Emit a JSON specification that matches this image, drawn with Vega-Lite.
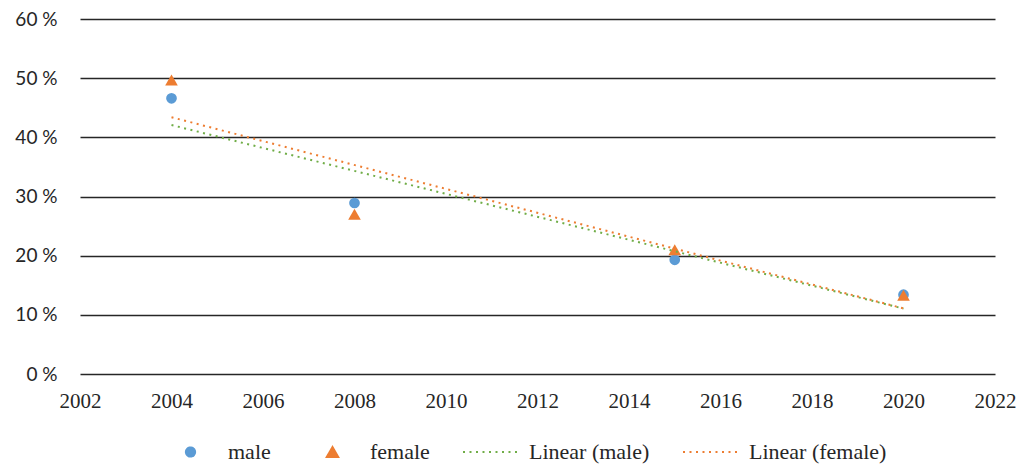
{
  "$schema": "https://vega.github.io/schema/vega-lite/v6.json",
  "width": 915,
  "height": 355,
  "autosize": {"type": "none"},
  "padding": {"left": 80, "top": 19, "right": 37, "bottom": 92},
  "background": "white",
  "config": {
    "view": {"stroke": null},
    "font": "Liberation Serif",
    "axis": {"labelFont": "Liberation Serif", "labelFontSize": 21, "labelColor": "#262626"},
    "legend": {"labelFont": "Liberation Serif", "labelFontSize": 22, "labelColor": "#262626", "padding": 0}
  },
  "data": {
    "values": [
      {"year": 2004, "value": 46.6, "sex": "male", "trend": "Linear (male)"},
      {"year": 2008, "value": 28.9, "sex": "male", "trend": "Linear (male)"},
      {"year": 2015, "value": 19.3, "sex": "male", "trend": "Linear (male)"},
      {"year": 2020, "value": 13.4, "sex": "male", "trend": "Linear (male)"},
      {"year": 2004, "value": 49.7, "sex": "female", "trend": "Linear (female)"},
      {"year": 2008, "value": 27.0, "sex": "female", "trend": "Linear (female)"},
      {"year": 2015, "value": 21.0, "sex": "female", "trend": "Linear (female)"},
      {"year": 2020, "value": 13.3, "sex": "female", "trend": "Linear (female)"}
    ]
  },
  "encoding": {
    "x": {
      "field": "year", "type": "quantitative",
      "scale": {"domain": [2002, 2022], "nice": false, "zero": false},
      "axis": {"title": null, "values": [2002,2004,2006,2008,2010,2012,2014,2016,2018,2020,2022], "format": "d", "grid": false, "ticks": false, "domain": false, "labelPadding": 16, "labelFlush": false, "labelOverlap": false}
    },
    "y": {
      "field": "value", "type": "quantitative",
      "scale": {"domain": [0, 60], "nice": false},
      "axis": {"title": null, "values": [0,10,20,30,40,50,60], "labelExpr": "datum.value + ' %'", "labelFont": "Lato", "labelFontSize": 19, "grid": true, "gridColor": "#262626", "gridWidth": 1.3, "gridOpacity": 1, "ticks": false, "domain": false, "labelPadding": 23}
    }
  },
  "layer": [
    {
      "mark": {"type": "point", "filled": true, "opacity": 1},
      "encoding": {
        "color": {
          "field": "sex", "type": "nominal",
          "scale": {"domain": ["male", "female", "Linear (male)", "Linear (female)"], "range": ["#5B9BD5", "#ED7D31", "#70AD47", "#ED7D31"]},
          "legend": {
            "title": null, "orient": "none", "direction": "horizontal", "legendX": 81, "legendY": 421,
            "clipHeight": 24, "columnPadding": 32, "labelOffset": 8,
            "encode": {
              "symbols": {
                "update": {
                  "shape": {"signal": "datum.value === 'male' ? 'circle' : datum.value === 'female' ? 'triangle-up' : 'stroke'"},
                  "size": {"signal": "datum.value === 'male' ? 85 : datum.value === 'female' ? 130 : 3249"},
                  "fill": {"signal": "datum.value === 'male' ? '#5B9BD5' : datum.value === 'female' ? '#ED7D31' : 'transparent'"},
                  "stroke": {"signal": "datum.value === 'Linear (male)' ? '#70AD47' : datum.value === 'Linear (female)' ? '#ED7D31' : 'transparent'"},
                  "strokeDash": {"signal": "datum.value === 'male' || datum.value === 'female' ? [1, 0] : [2, 4.5]"},
                  "strokeWidth": {"value": 2},
                  "opacity": {"value": 1}
                }
              }
            }
          }
        },
        "shape": {
          "field": "sex", "type": "nominal",
          "scale": {"domain": ["male", "female"], "range": ["circle", "triangle-up"]},
          "legend": null
        },
        "size": {
          "field": "sex", "type": "nominal",
          "scale": {"domain": ["male", "female"], "range": [115, 160]},
          "legend": null
        }
      }
    },
    {
      "transform": [{"regression": "value", "on": "year", "groupby": ["trend"]}],
      "mark": {"type": "line", "strokeWidth": 2, "strokeDash": [2, 4.5]},
      "encoding": {
        "color": {
          "field": "trend", "type": "nominal",
          "legend": {
            "title": null, "orient": "none", "direction": "horizontal", "legendX": 81, "legendY": 421,
            "clipHeight": 24, "columnPadding": 32, "labelOffset": 8,
            "encode": {
              "symbols": {
                "update": {
                  "shape": {"signal": "datum.value === 'male' ? 'circle' : datum.value === 'female' ? 'triangle-up' : 'stroke'"},
                  "size": {"signal": "datum.value === 'male' ? 85 : datum.value === 'female' ? 130 : 3249"},
                  "fill": {"signal": "datum.value === 'male' ? '#5B9BD5' : datum.value === 'female' ? '#ED7D31' : 'transparent'"},
                  "stroke": {"signal": "datum.value === 'Linear (male)' ? '#70AD47' : datum.value === 'Linear (female)' ? '#ED7D31' : 'transparent'"},
                  "strokeDash": {"signal": "datum.value === 'male' || datum.value === 'female' ? [1, 0] : [2, 4.5]"},
                  "strokeWidth": {"value": 2},
                  "opacity": {"value": 1}
                }
              }
            }
          }
        }
      }
    }
  ]
}
